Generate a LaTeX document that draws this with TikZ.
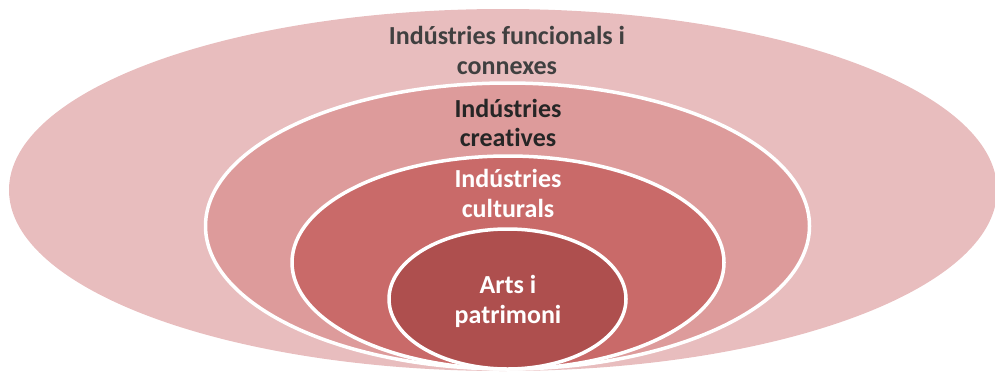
\documentclass[tikz,border=0pt]{standalone}
\usepackage{fontspec}
\setmainfont{Carlito}[Ligatures={NoCommon}]
\definecolor{ringA}{HTML}{E8BDBE}
\definecolor{ringB}{HTML}{DD9B9B}
\definecolor{ringC}{HTML}{C96A69}
\definecolor{ringD}{HTML}{AE4F4E}
\definecolor{txtA}{HTML}{404040}
\definecolor{txtB}{HTML}{262626}
\begin{document}
\begin{tikzpicture}[x=1pt,y=-1pt,
  ring/.style={draw=white,line width=3.5pt},
  lbl/.style={font=\fontsize{26}{29.5}\selectfont\bfseries,align=center,anchor=base,inner sep=0pt}]
\useasboundingbox (0,0) rectangle (995,372);
\clip (0,0) rectangle (995,372);
\fill[ringA] (503,190) ellipse [x radius=494pt, y radius=181pt];
\draw[ring,fill=ringB] (507.5,226) ellipse [x radius=302pt, y radius=143pt];
\draw[ring,fill=ringC] (508,262.5) ellipse [x radius=216pt, y radius=106.5pt];
\draw[ring,fill=ringD] (507.5,299) ellipse [x radius=118.5pt, y radius=70pt];
\node[lbl,text=txtA] (funcionals) at (507,74.3) {Indústries funcionals i\\connexes};
\node[lbl,text=txtB] (creatives) at (508,146.7) {Indústries\\creatives};
\node[lbl,text=white] (culturals) at (508,217) {Indústries\\culturals};
\node[lbl,text=white] (arts) at (508,323) {Arts i\\patrimoni};
\end{tikzpicture}
\end{document}
